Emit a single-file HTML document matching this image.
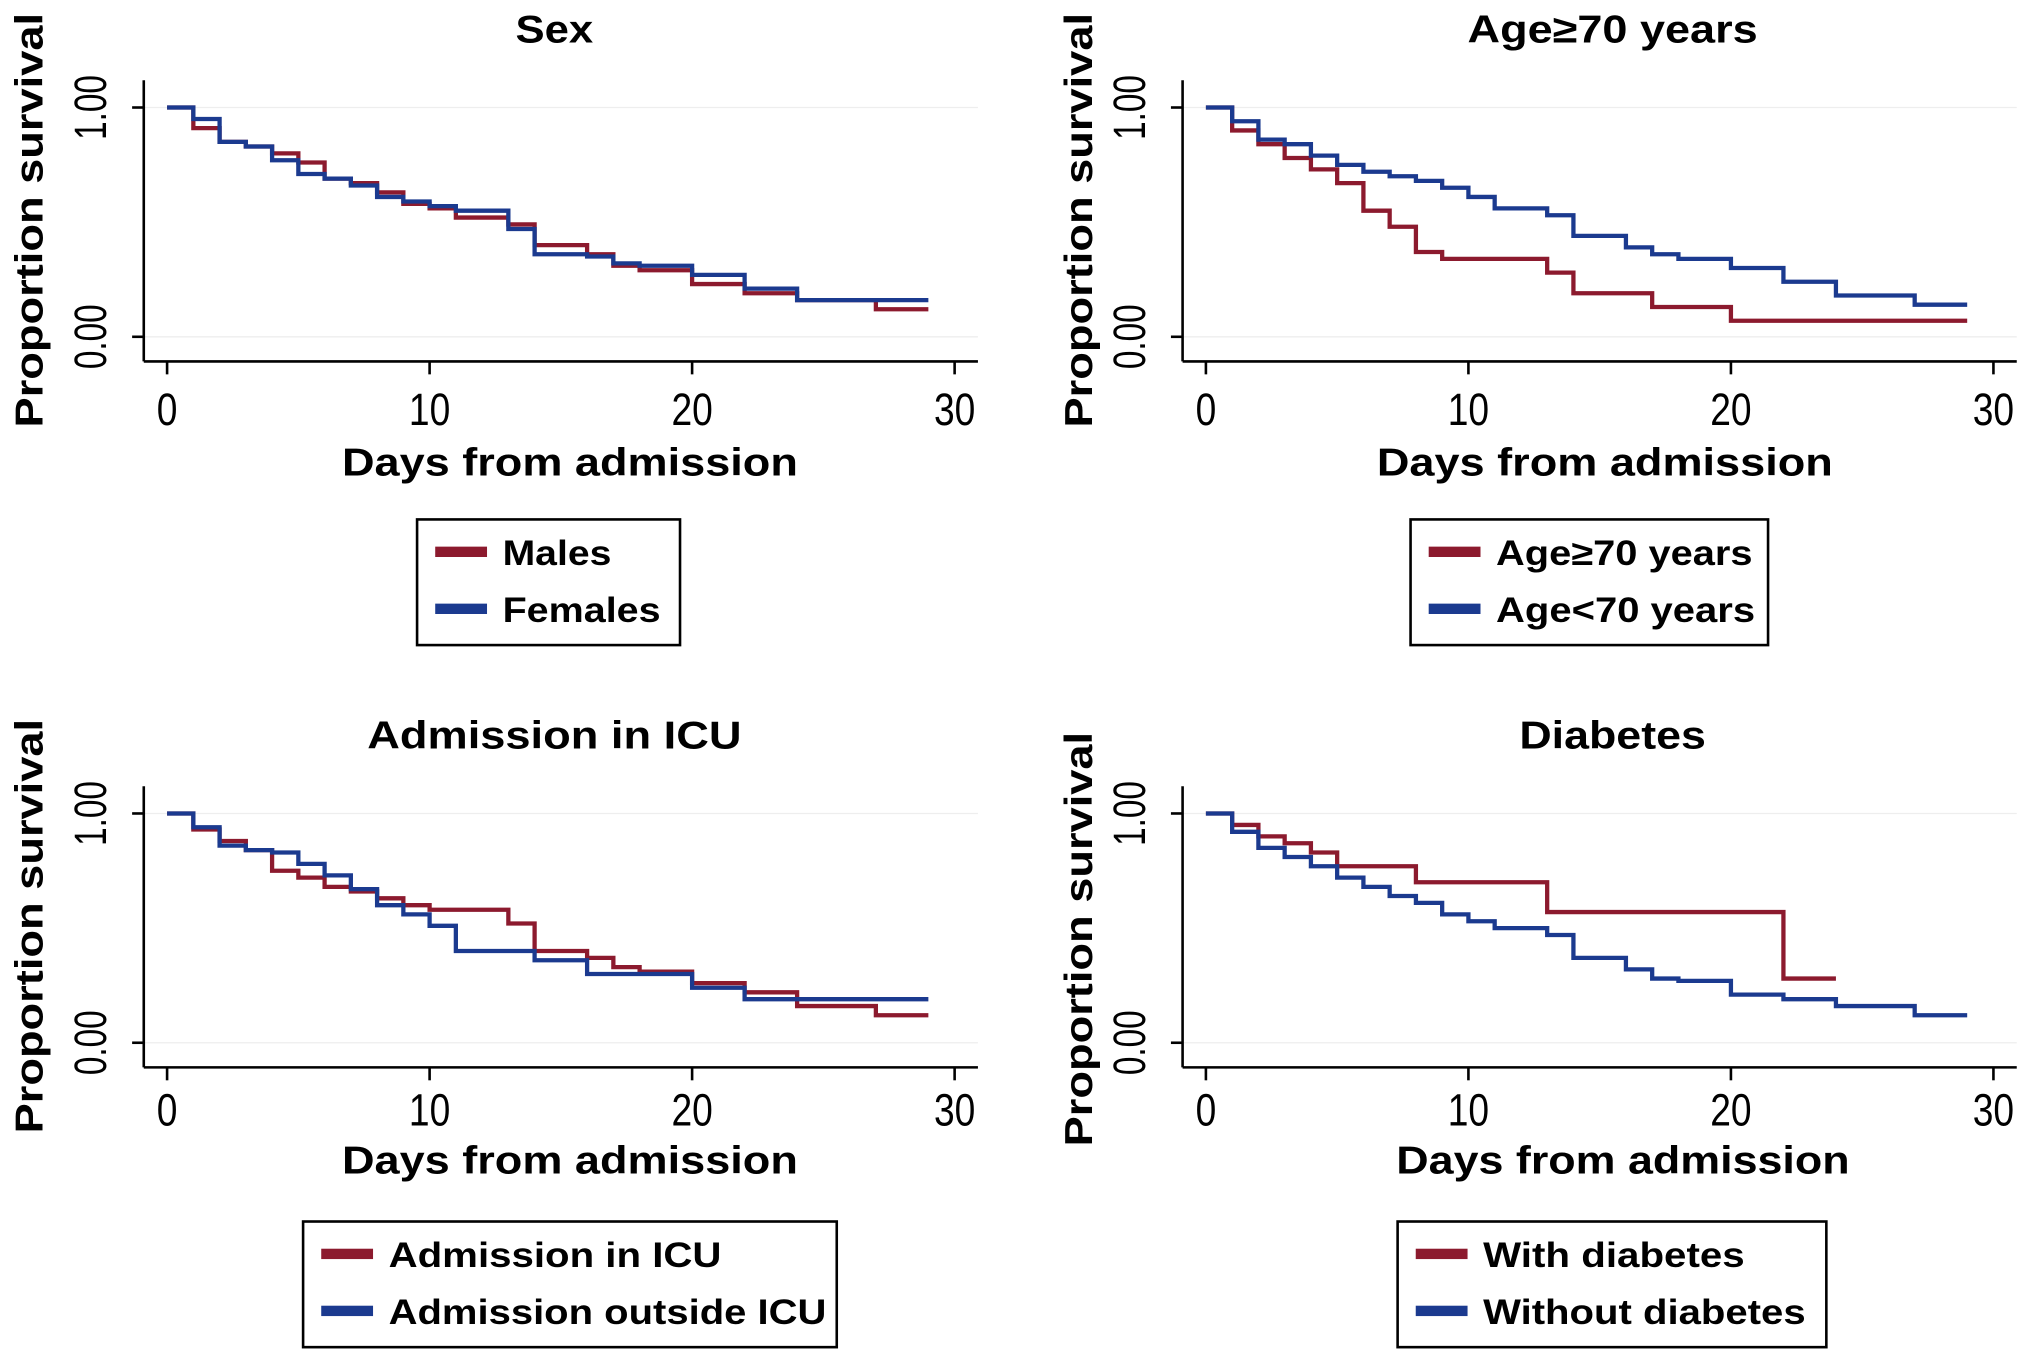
<!DOCTYPE html>
<html><head><meta charset="utf-8"><style>html,body{margin:0;padding:0;background:#fff}svg{display:block}</style></head>
<body>
<svg id="c" width="2031" height="1364" viewBox="0 0 1568 1053" preserveAspectRatio="none" xmlns="http://www.w3.org/2000/svg" font-family="Liberation Sans, sans-serif"></svg>
<script>
const xTicks = [0, 10, 20, 30];
const yTickLabels = ["0.00", "1.00"];
const sexMalesDays = [0,1,2,3,4,5,6,7,8,9,10,11,13,14,16,17,18,20,22,24,27,29];
const sexMalesVals = [1,0.91,0.85,0.83,0.80,0.76,0.69,0.67,0.63,0.58,0.56,0.52,0.49,0.40,0.36,0.31,0.29,0.23,0.19,0.16,0.12,0.12];
const sexFemalesDays = [0,1,2,3,4,5,6,7,8,9,10,11,13,14,16,17,18,20,22,24,27,29];
const sexFemalesVals = [1,0.95,0.85,0.83,0.77,0.71,0.69,0.66,0.61,0.59,0.57,0.55,0.47,0.36,0.35,0.32,0.31,0.27,0.21,0.16,0.16,0.16];
const ageOldDays = [0,1,2,3,4,5,6,7,8,9,13,14,17,20,29];
const ageOldVals = [1,0.90,0.84,0.78,0.73,0.67,0.55,0.48,0.37,0.34,0.28,0.19,0.13,0.07,0.07];
const ageYoungDays = [0,1,2,3,4,5,6,7,8,9,10,11,13,14,16,17,18,20,22,24,27,29];
const ageYoungVals = [1,0.94,0.86,0.84,0.79,0.75,0.72,0.70,0.68,0.65,0.61,0.56,0.53,0.44,0.39,0.36,0.34,0.30,0.24,0.18,0.14,0.14];
const icuInDays = [0,1,2,3,4,5,6,7,8,9,10,13,14,16,17,18,20,22,24,27,29];
const icuInVals = [1,0.93,0.88,0.84,0.75,0.72,0.68,0.66,0.63,0.60,0.58,0.52,0.40,0.37,0.33,0.31,0.26,0.22,0.16,0.12,0.12];
const icuOutDays = [0,1,2,3,4,5,6,7,8,9,10,11,14,16,20,22,29];
const icuOutVals = [1,0.94,0.86,0.84,0.83,0.78,0.73,0.67,0.60,0.56,0.51,0.40,0.36,0.30,0.24,0.19,0.19];
const diabYesDays = [0,1,2,3,4,5,8,13,22,24];
const diabYesVals = [1,0.95,0.90,0.87,0.83,0.77,0.70,0.57,0.28,0.28];
const diabNoDays = [0,1,2,3,4,5,6,7,8,9,10,11,13,14,16,17,18,20,22,24,27,29];
const diabNoVals = [1,0.92,0.85,0.81,0.77,0.72,0.68,0.64,0.61,0.56,0.53,0.50,0.47,0.37,0.32,0.28,0.27,0.21,0.19,0.16,0.12,0.12];

const RED = "#8c1a2e", BLUE = "#1b3a8f";
const NS = "http://www.w3.org/2000/svg";
const svg = document.getElementById("c");
function mk(tag, attrs, parent) {
  const e = document.createElementNS(NS, tag);
  for (const k in attrs) e.setAttribute(k, attrs[k]);
  (parent || svg).appendChild(e);
  return e;
}
function txt(str, attrs, parent) { const t = mk("text", attrs, parent); t.textContent = str; return t; }

const panels = [
  {key:"sex", dx:0, dy:0, tdy:0, title:"Sex", tw:60, ytx:22, s:[[sexMalesDays,sexMalesVals],[sexFemalesDays,sexFemalesVals]],
   leg:{x:322,w:203,labels:["Males","Females"],lw:[84,122]}, xt:[440,352]},
  {key:"age", dx:802, dy:0, tdy:0, title:"Age\u226570 years", tw:224, ytx:832, s:[[ageOldDays,ageOldVals],[ageYoungDays,ageYoungVals]],
   leg:{x:1089,w:276,labels:["Age\u226570 years","Age<70 years"],lw:[198,200]}, xt:[1239,352]},
  {key:"icu", dx:0, dy:545, tdy:-4, title:"Admission in ICU", tw:289, ytx:22, s:[[icuInDays,icuInVals],[icuOutDays,icuOutVals]],
   leg:{x:234,w:412,labels:["Admission in ICU","Admission outside ICU"],lw:[257,338]}, xt:[440,352]},
  {key:"diabetes", dx:802, dy:545, tdy:-4, title:"Diabetes", tw:144, ytx:832, s:[[diabYesDays,diabYesVals],[diabNoDays,diabNoVals]],
   leg:{x:1079,w:331,labels:["With diabetes","Without diabetes"],lw:[202,249]}, xt:[1253,350]}
];

panels.forEach(p => {
  const g = mk("g", {});
  
  
  const X0 = 129 + p.dx, XS = (737 - 129) / 30;
  const Y1 = 83 + p.dy, Y0 = 260 + p.dy;
  const xs = d => X0 + d * XS;
  const ys = v => Y0 - v * (Y0 - Y1);
  const axL = 111 + p.dx, axB = 279 + p.dy;
  const t = txt(p.title, {x: 428 + p.dx + (p.dx ? 15 : 0), y: 33 + p.dy, "text-anchor":"middle", "font-size":30, "font-weight":"bold", textLength:p.tw, lengthAdjust:"spacingAndGlyphs"}, g);
  
  
  [0,1].forEach(v => mk("line", {x1:axL, x2:755+p.dx, y1:ys(v), y2:ys(v), stroke:"#eeeeee", "stroke-width":1}, g));
  const ya = mk("line", {x1:axL, x2:axL, y1:62+p.dy, y2:axB, stroke:"#000", "stroke-width":2}, g);
  
  
  const xa = mk("line", {x1:axL, x2:755+p.dx, y1:axB, y2:axB, stroke:"#000", "stroke-width":2}, g);
  
  
  xTicks.forEach(d => {
    mk("line", {x1:xs(d), x2:xs(d), y1:axB, y2:axB+10, stroke:"#000", "stroke-width":2}, g);
    const l = txt(String(d), {x:xs(d), y:328+p.dy+p.tdy, "text-anchor":"middle", "font-size":35, transform:`translate(${xs(d)},0) scale(0.82,1) translate(${-xs(d)},0)`}, g);
    
    
  });
  [0,1].forEach((v,i) => {
    mk("line", {x1:axL-9, x2:axL, y1:ys(v), y2:ys(v), stroke:"#000", "stroke-width":2}, g);
    const cx = 82 + p.dx, cy = ys(v);
    const l = txt(yTickLabels[i], {x:cx, y:cy, "text-anchor":"middle", "font-size":35, transform:`rotate(-90 ${cx} ${cy})`, textLength:50, lengthAdjust:"spacingAndGlyphs"}, g);
    
    
  });
  const ycy = 170 + p.dy + (p.key==="diabetes"?10:0);
  const yt = txt("Proportion survival", {x:p.ytx+11, y:ycy, "text-anchor":"middle", "font-size":30, "font-weight":"bold", transform:`rotate(-90 ${p.ytx+11} ${ycy})`, textLength:320, lengthAdjust:"spacingAndGlyphs"}, g);
  
  
  const xt = txt("Days from admission", {x:p.xt[0], y:367+p.dy+p.tdy*1.5, "text-anchor":"middle", "font-size":30, "font-weight":"bold", textLength:p.xt[1], lengthAdjust:"spacingAndGlyphs"}, g);
  
  
  p.s.forEach((s, si) => {
    const [days, vals] = s;
    let d = `M${xs(days[0])},${ys(vals[0])}`;
    for (let i = 1; i < days.length; i++) {
      d += ` H${xs(days[i])} V${ys(vals[i])}`;
    }
    const path = mk("path", {d, fill:"none", stroke: si ? BLUE : RED, "stroke-width":3.3}, g);
    
    
  });
  const L = p.leg, ly = 401 + p.dy + (p.dy ? -3 : 0);
  const box = mk("rect", {x:L.x, y:ly, width:L.w, height:97, fill:"#fff", stroke:"#000", "stroke-width":2}, g);
  
  
  L.labels.forEach((lab, i) => {
    const cy = ly + 25 + i * 44;
    const sw = mk("rect", {x:L.x+14, y:cy-4, width:40, height:8, fill: i ? BLUE : RED}, g);
    
    
    const tl = txt(lab, {x:L.x+66, y:cy+10, "font-size":27, "font-weight":"bold", textLength:L.lw[i], lengthAdjust:"spacingAndGlyphs"}, g);
    
    
  });
});
</script>
</body></html>
